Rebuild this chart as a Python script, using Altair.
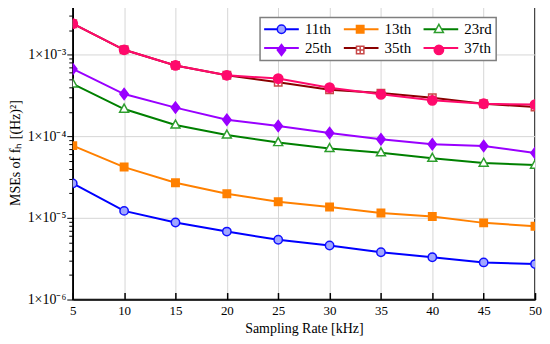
import altair as alt
import pandas as pd

# ---------------- data ----------------
rates = [5, 10, 15, 20, 25, 30, 35, 40, 45, 50]
series_names = ["11th", "13th", "23rd", "25th", "35th", "37th"]

mse_11 = [2.65e-5, 1.22e-5, 8.8e-6, 6.8e-6, 5.4e-6, 4.6e-6, 3.8e-6, 3.3e-6, 2.85e-6, 2.72e-6]
mse_13 = [7.7e-5, 4.2e-5, 2.7e-5, 1.98e-5, 1.58e-5, 1.36e-5, 1.15e-5, 1.04e-5, 8.7e-6, 7.9e-6]
mse_23 = [4.4e-4, 2.16e-4, 1.38e-4, 1.04e-4, 8.4e-5, 7.1e-5, 6.3e-5, 5.4e-5, 4.7e-5, 4.45e-5]
mse_25 = [6.7e-4, 3.3e-4, 2.25e-4, 1.6e-4, 1.34e-4, 1.1e-4, 9.2e-5, 8.0e-5, 7.6e-5, 6.25e-5]
mse_35 = [2.4e-3, 1.15e-3, 7.4e-4, 5.6e-4, 4.6e-4, 3.73e-4, 3.39e-4, 2.97e-4, 2.51e-4, 2.29e-4]
mse_37 = [2.4e-3, 1.15e-3, 7.4e-4, 5.6e-4, 5.1e-4, 3.95e-4, 3.27e-4, 2.76e-4, 2.51e-4, 2.45e-4]

all_series = [mse_11, mse_13, mse_23, mse_25, mse_35, mse_37]

y_major_values = [1e-6, 1e-5, 1e-4, 1e-3]
y_major_labels = ["1×10⁻⁶", "1×10⁻⁵", "1×10⁻⁴", "1×10⁻³"]
y_minor_values = [
    2e-6, 3e-6, 4e-6, 5e-6, 6e-6, 7e-6, 8e-6, 9e-6,
    2e-5, 3e-5, 4e-5, 5e-5, 6e-5, 7e-5, 8e-5, 9e-5,
    2e-4, 3e-4, 4e-4, 5e-4, 6e-4, 7e-4, 8e-4, 9e-4,
    2e-3, 3e-3,
]

# ---------------- styles ----------------
line_colors = ["#0000ff", "#ff8000", "#008000", "#9900ff", "#8b0000", "#ff0a6c"]
marker_strokes = ["#1010ff", "#ff8000", "#2e9e2e", "#9900ff", "#c84848", "#ff0a6c"]
marker_fills = ["#a0a6ff", "#ff8000", "#ffffff", "#9900ff", "#ffffff", "#ff0a6c"]
ext = "M-2.9,0M2.9,0"  # invisible extent so legend entries match the line legend
marker_paths = [
    ext + "M-0.7,0A0.7,0.7,0,1,1,0.7,0A0.7,0.7,0,1,1,-0.7,0Z",
    ext + "M-0.62,-0.62H0.62V0.62H-0.62Z",
    ext + "M0,-0.82L0.75,0.52H-0.75Z",
    ext + "M0,-0.92L0.7,0L0,0.92L-0.7,0Z",
    ext + "M-0.62,-0.62H0.62V0.62H-0.62Z M0,-0.62V0.62 M-0.62,0H0.62",
    ext + "M-0.78,0A0.78,0.78,0,1,1,0.78,0A0.78,0.78,0,1,1,-0.78,0Z",
]
legend_line_path = "M-2.9,0H2.9"
font = "Liberation Serif"

rows = []
for name, vals in zip(series_names, all_series):
    for r, v in zip(rates, vals):
        rows.append({"rate": r, "mse": v, "series": name})
df = pd.DataFrame(rows)

x_scale = alt.Scale(domain=[5, 50], nice=False, zero=False)
y_scale = alt.Scale(type="log", domain=[1e-6, 4e-3], nice=False)

major_label_expr = " : ".join(
    f"datum.value == {v} ? '{t}'" for v, t in zip(y_major_values, y_major_labels)
) + " : ''"

legend_common = dict(
    orient="none", legendX=188, legendY=12, columns=3, direction="horizontal",
    symbolSize=144, labelFont=font, labelFontSize=15, labelColor="black",
    labelOffset=16, symbolOffset=10, columnPadding=8, rowPadding=3,
    padding=4, title=None,
)
legend_a = alt.Legend(symbolType=legend_line_path, symbolStrokeWidth=2,
                      fillColor="white", strokeColor="#7f7f7f", **legend_common)
legend_b = alt.Legend(symbolStrokeWidth=1.5, labelOpacity=0, **legend_common)

lines = alt.Chart(df).mark_line(strokeWidth=2, clip=True).encode(
    x=alt.X("rate:Q", scale=x_scale, axis=alt.Axis(
        orient="bottom", values=rates, grid=True, gridColor="#d6d6d6", ticks=False,
        labelFlush=False, labelPadding=5, labelFont=font, labelFontSize=13,
        labelColor="black", domainColor="black", domainWidth=1.5,
        title="Sampling Rate [kHz]", titleFont=font, titleFontSize=14,
        titleFontWeight="normal", titleColor="black", titlePadding=4)),
    y=alt.Y("mse:Q", scale=y_scale, axis=alt.Axis(
        orient="left", values=y_major_values, labelExpr=major_label_expr,
        labelOverlap=False, grid=True, gridColor="#d6d6d6",
        tickSize=6, tickColor="black", tickWidth=1, domainColor="black", domainWidth=1.5,
        labelFont=font, labelFontSize=14, labelColor="black", labelPadding=1,
        title="MSEs of  f̂ₕ [(Hz)²]", titleFont=font, titleFontSize=14,
        titleFontWeight="normal", titleColor="black", titlePadding=5)),
    color=alt.Color("series:N", scale=alt.Scale(domain=series_names, range=line_colors),
                    legend=legend_a),
)

points = alt.Chart(df).mark_point(size=144, strokeWidth=1.5, opacity=1, clip=True).encode(
    x=alt.X("rate:Q", scale=x_scale, axis=alt.Axis(
        orient="top", offset=-295, values=rates, ticks=True, tickSize=7,
        tickColor="black", tickWidth=1.5, labels=False, domain=False, grid=False,
        title=None)),
    y=alt.Y("mse:Q", scale=y_scale, axis=alt.Axis(
        orient="left", values=y_minor_values, ticks=True, tickSize=4,
        tickColor="black", tickWidth=1, labels=False, domain=False, grid=False,
        title=None)),
    shape=alt.Shape("series:N", scale=alt.Scale(range=marker_paths), legend=legend_b),
    fill=alt.Fill("series:N", scale=alt.Scale(range=marker_fills), legend=legend_b),
    stroke=alt.Stroke("series:N", scale=alt.Scale(range=marker_strokes), legend=legend_b),
)

chart = alt.layer(lines, points).resolve_axis(x="independent", y="independent").properties(
    width=464, height=295,
    padding={"left": 65, "top": -3, "right": 7, "bottom": 36},
    autosize=alt.AutoSizeParams(type="none"),
).configure_view(stroke="black", strokeWidth=1.5).configure_legend(strokeWidth=1.5)

chart.save("out.html", embed_options={"renderer": "svg", "actions": False})
